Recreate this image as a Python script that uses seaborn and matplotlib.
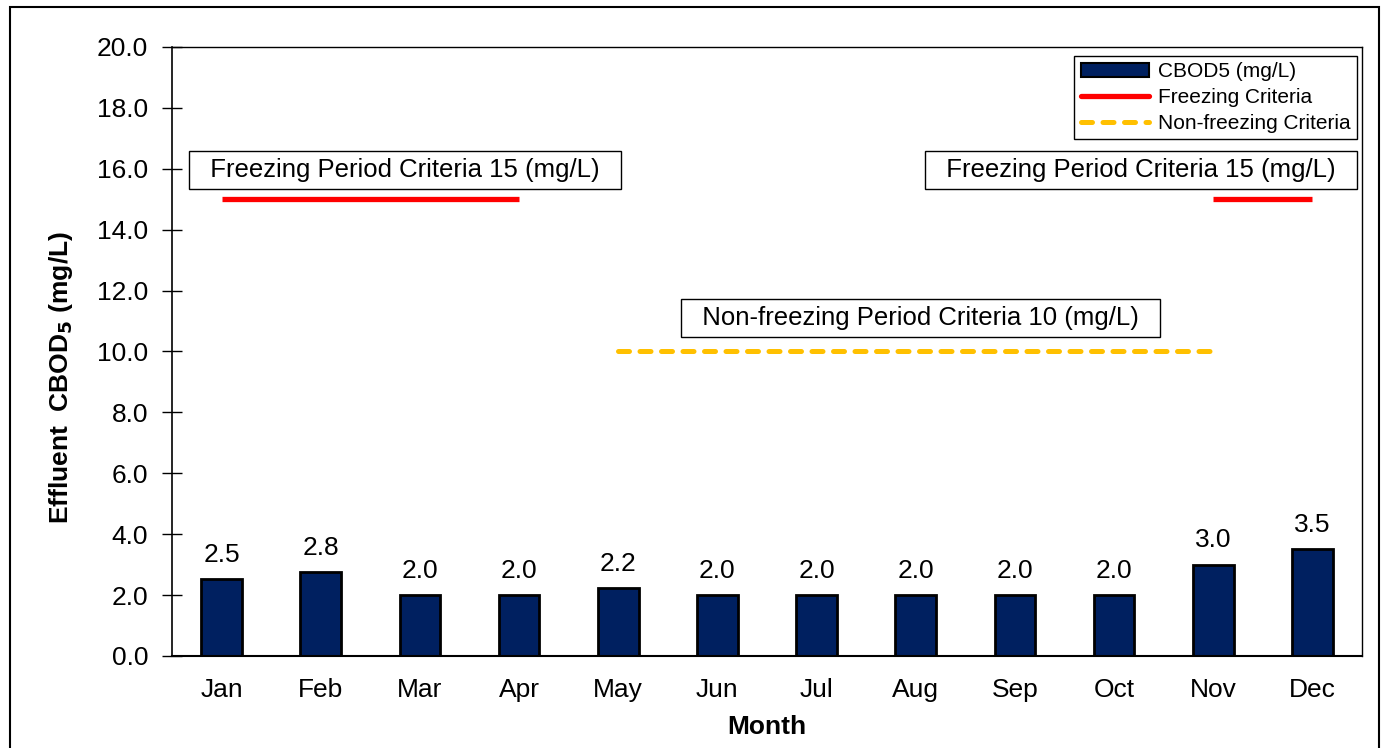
import matplotlib
matplotlib.use("Agg")
import matplotlib.pyplot as plt
import seaborn as sns
from matplotlib.lines import Line2D
from matplotlib.patches import Patch, Rectangle

# --------------------------------
# DATA
# --------------------------------
months = ["Jan", "Feb", "Mar", "Apr", "May", "Jun",
          "Jul", "Aug", "Sep", "Oct", "Nov", "Dec"]
cbod5 = [2.52, 2.75, 2.0, 2.0, 2.22, 2.0, 2.0, 2.0, 2.0, 2.0, 3.0, 3.5]

freezing_limit = 15
nonfreezing_limit = 10
freezing_spans = [("Jan", "Apr"), ("Nov", "Dec")]
nonfreezing_span = ("May", "Nov")

yticks = [0, 2, 4, 6, 8, 10, 12, 14, 16, 18, 20]

bar_color = "#002060"
red = "#FF0000"
yellow = "#FFC000"
dash = (0, (2.2, 2.1))

sns.set_style("white")
plt.rcParams["font.family"] = ["Liberation Sans", "DejaVu Sans"]
plt.rcParams["text.color"] = "black"
plt.rcParams["axes.labelcolor"] = "black"
plt.rcParams["xtick.color"] = "black"
plt.rcParams["ytick.color"] = "black"

fig = plt.figure(figsize=(13.89, 7.48), dpi=100)
ax = fig.add_axes([0.1238, 0.1230, 0.8568, 0.8142])

sns.barplot(
    x=months,
    y=cbod5,
    color=bar_color,
    saturation=1,
    edgecolor="black",
    linewidth=2,
    width=0.41,
    ax=ax
)

ax.bar_label(
    ax.containers[0],
    labels=[f"{v:.1f}" for v in cbod5],
    padding=9,
    fontsize=19
)

# --------------------------------
# CRITERIA LINES
# --------------------------------
for start, end in freezing_spans:
    ax.plot(
        [months.index(start), months.index(end)],
        [freezing_limit, freezing_limit],
        color=red,
        linewidth=3.8,
        solid_capstyle="butt"
    )

ax.plot(
    [months.index(nonfreezing_span[0]), months.index(nonfreezing_span[1])],
    [nonfreezing_limit, nonfreezing_limit],
    color=yellow,
    linewidth=3.6,
    linestyle=dash,
    dash_capstyle="round"
)

# --------------------------------
# TEXT BOXES
# --------------------------------
box = dict(boxstyle="square,pad=0.28", facecolor="white",
           edgecolor="black", linewidth=1)
freeze_txt = f"  Freezing Period Criteria {freezing_limit} (mg/L)  "
nonfreeze_txt = f"  Non-freezing Period Criteria {nonfreezing_limit} (mg/L)  "
ax.text(1.85, 15.95, freeze_txt, ha="center", va="center",
        fontsize=18.5, bbox=box)
ax.text(9.27, 15.95, freeze_txt, ha="center", va="center",
        fontsize=18.5, bbox=box)
ax.text(7.05, 11.1, nonfreeze_txt, ha="center", va="center",
        fontsize=18.5, bbox=box)

# --------------------------------
# AXES
# --------------------------------
ax.set_xlim(-0.5, len(months) - 0.5)
ax.set_ylim(0, 20)
ax.set_yticks(yticks)
ax.set_yticklabels([f"{t:.1f}" for t in yticks])
ax.tick_params(axis="y", direction="inout", length=14, width=1,
               labelsize=19, pad=10, left=True)
ax.tick_params(axis="x", length=0, labelsize=19, pad=16)

for side in ["left", "right", "top", "bottom"]:
    ax.spines[side].set_visible(True)
    ax.spines[side].set_color("black")
ax.spines["left"].set_linewidth(1.2)
ax.spines["bottom"].set_linewidth(1.5)
ax.spines["right"].set_linewidth(1)
ax.spines["top"].set_linewidth(1)

ax.set_xlabel("Month", fontsize=19, fontweight="bold")
ax.set_ylabel("Effluent  CBOD$_\\mathbf{5}$ (mg/L)", fontsize=19,
              fontweight="bold")
ax.xaxis.set_label_coords(0.5, -0.097)
ax.yaxis.set_label_coords(-0.0815, 0.458)

# --------------------------------
# LEGEND
# --------------------------------
handles = [
    Patch(facecolor=bar_color, edgecolor="black", linewidth=1.5),
    Line2D([0], [0], color=red, linewidth=3.8),
    Line2D([0], [0], color=yellow, linewidth=3.6, linestyle=dash,
           dash_capstyle="round"),
]
leg = ax.legend(
    handles,
    ["CBOD5 (mg/L)", "Freezing Criteria", "Non-freezing Criteria"],
    loc="upper right",
    bbox_to_anchor=(0.9955, 0.985),
    fontsize=15,
    frameon=True,
    fancybox=False,
    edgecolor="black",
    framealpha=1,
    borderpad=0.3,
    labelspacing=0.32,
    handlelength=3.3,
    handleheight=0.6,
    handletextpad=0.4,
    borderaxespad=0
)
leg.get_frame().set_linewidth(1)

# outer border
fig.patches.append(Rectangle(
    (10 / 1389, -0.05), 1369 / 1389, 1.05 - 7 / 748,
    transform=fig.transFigure, fill=False,
    edgecolor="black", linewidth=1.5
))

fig.savefig("out.png", dpi=100)
plt.close(fig)
